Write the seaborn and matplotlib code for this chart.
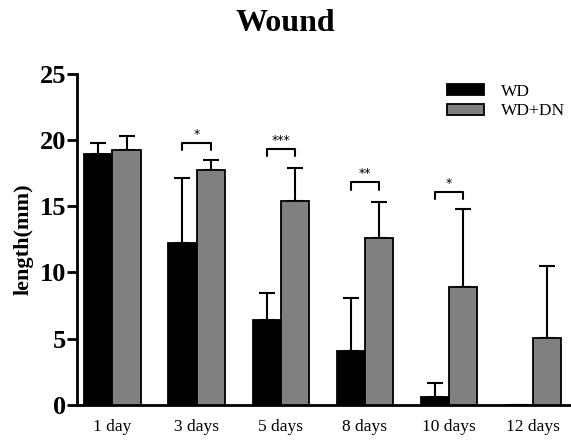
import matplotlib
matplotlib.use('Agg')
import matplotlib.pyplot as plt
import matplotlib.patches as mpatches
import pandas as pd
import numpy as np
import seaborn as sns

days = ['1 day', '3 days', '5 days', '8 days', '10 days', '12 days']
wd_mean = [18.9, 12.2, 6.4, 4.1, 0.6, 0.0]
wd_err = [0.9, 4.9, 2.05, 4.0, 1.05, 0.0]
dn_mean = [19.25, 17.7, 15.4, 12.6, 8.9, 5.05]
dn_err = [1.05, 0.8, 2.5, 2.7, 5.9, 5.45]
groups = ['WD', 'WD+DN']
colors = ['black', '#808080']

# significance brackets: (day index, bracket height, label)
sig = [(1, 19.8, '*'), (2, 19.3, '***'), (3, 16.8, '**'), (4, 16.1, '*')]

data = pd.DataFrame({
    'day': days * 2,
    'length': wd_mean + dn_mean,
    'group': ['WD'] * len(days) + ['WD+DN'] * len(days),
})

sns.set_style('ticks')
plt.rcParams['font.family'] = ['Liberation Serif', 'DejaVu Serif']
plt.rcParams['text.color'] = 'black'
plt.rcParams['xtick.color'] = 'black'
plt.rcParams['ytick.color'] = 'black'
plt.rcParams['axes.labelcolor'] = 'black'
plt.rcParams['axes.edgecolor'] = 'black'

fig = plt.figure(figsize=(5.71, 4.43), dpi=100)
ax = fig.add_axes([0.135, 0.0858, 0.865, 0.748])

sns.barplot(data=data, x='day', y='length', hue='group', palette=colors,
            width=0.67, errorbar=None, edgecolor='black', linewidth=1.3,
            legend=False, ax=ax, zorder=3)

errs = [wd_err, dn_err]
means = [wd_mean, dn_mean]
bar_conts = list(ax.containers)
centers = []
for i, cont in enumerate(bar_conts):
    xs = [p.get_x() + p.get_width() / 2 for p in cont.patches]
    centers.append(xs)
    ax.errorbar(xs, means[i], yerr=[np.zeros(len(xs)), errs[i]], fmt='none',
                ecolor='black', elinewidth=1.5, capsize=6, capthick=1.5, zorder=2)

for idx, h, lab in sig:
    x0, x1 = centers[0][idx], centers[1][idx]
    ax.plot([x0, x0, x1, x1], [h - 0.55, h, h, h - 0.55], color='black', lw=1.5)
    ax.text((x0 + x1) / 2, h + 0.15, lab, ha='center', va='bottom', fontsize=9,
            color='black', family='DejaVu Sans')

ax.set_xlim(-0.42, 5.45)
ax.set_ylim(0, 25)
ax.set_yticks([0, 5, 10, 15, 20, 25])
ax.tick_params(axis='y', length=7, width=2, labelsize=19, pad=1)
ax.tick_params(axis='x', length=0, labelsize=12.5, pad=10)
for t in ax.get_yticklabels():
    t.set_fontweight('bold')
for s in ['top', 'right']:
    ax.spines[s].set_visible(False)
ax.spines['left'].set_linewidth(2)
ax.spines['bottom'].set_linewidth(2)

ax.set_xlabel('')
ax.set_ylabel('length(mm)', fontsize=16, fontweight='bold', labelpad=4)
fig.suptitle('Wound', fontsize=23, fontweight='bold', y=0.98)

handles = [mpatches.Patch(facecolor=c, edgecolor='black', linewidth=1.3, label=g)
           for c, g in zip(colors, groups)]
fig.legend(handles=handles, loc='upper left', bbox_to_anchor=(0.768, 0.83),
           frameon=False, fontsize=12.5, handlelength=2.1, handleheight=0.6,
           labelspacing=0.2, handletextpad=1.0, borderpad=0)

fig.savefig('out.png', dpi=100)
